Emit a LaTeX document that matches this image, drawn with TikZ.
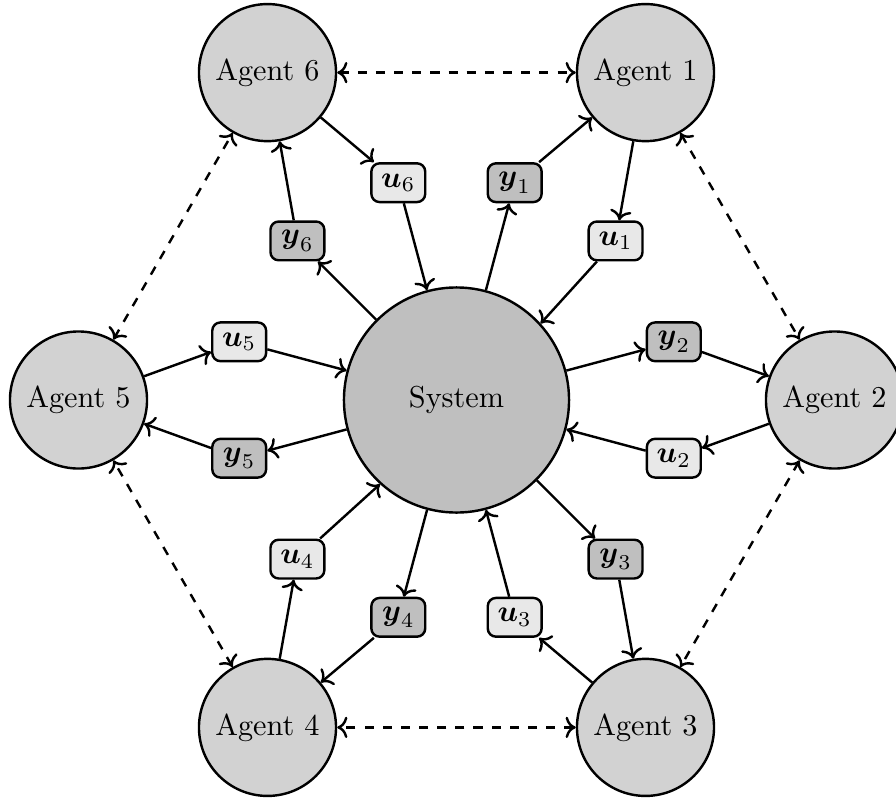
\documentclass[tikz,border=0pt]{standalone}
\usepackage{amsmath}
\usetikzlibrary{arrows.meta}
\begin{document}
\begin{tikzpicture}[x=0.3305pt,y=-0.3305pt,
  agent/.style={circle,draw,thick,fill=gray!35,minimum size=45.3pt,inner sep=0pt},
  sysnode/.style={circle,draw,thick,fill=gray!50,minimum size=74.4pt,inner sep=0pt},
  ubox/.style={draw,thick,rounded corners=2.7pt,fill=gray!18,minimum width=17.8pt,minimum height=12.8pt,inner sep=1.5pt},
  ybox/.style={ubox,fill=gray!50},
  flow/.style={->,thick},
  link/.style={<->,thick,dashed}]
\clip (0,0) rectangle (896,798);
\node[sysnode] (S) at (456.5,400) {System};
\node[agent] (A1) at (645.5,72.6) {Agent 1};
\node[agent] (A2) at (834.5,400) {Agent 2};
\node[agent] (A3) at (645.5,727.4) {Agent 3};
\node[agent] (A4) at (267.5,727.4) {Agent 4};
\node[agent] (A5) at (78.5,400) {Agent 5};
\node[agent] (A6) at (267.5,72.6) {Agent 6};
\node[ybox] (y1) at (514.7,182.7) {$\boldsymbol{y}_1$};
\node[ubox] (u1) at (615.6,240.9) {$\boldsymbol{u}_1$};
\node[ybox] (y2) at (673.8,341.8) {$\boldsymbol{y}_2$};
\node[ubox] (u2) at (673.8,458.2) {$\boldsymbol{u}_2$};
\node[ybox] (y3) at (615.6,559.1) {$\boldsymbol{y}_3$};
\node[ubox] (u3) at (514.7,617.3) {$\boldsymbol{u}_3$};
\node[ybox] (y4) at (398.3,617.3) {$\boldsymbol{y}_4$};
\node[ubox] (u4) at (297.4,559.1) {$\boldsymbol{u}_4$};
\node[ybox] (y5) at (239.2,458.2) {$\boldsymbol{y}_5$};
\node[ubox] (u5) at (239.2,341.8) {$\boldsymbol{u}_5$};
\node[ybox] (y6) at (297.4,240.9) {$\boldsymbol{y}_6$};
\node[ubox] (u6) at (398.3,182.7) {$\boldsymbol{u}_6$};
\foreach \k in {1,...,6}{
  \draw[flow] (S) -- (y\k);
  \draw[flow] (y\k) -- (A\k);
  \draw[flow] (A\k) -- (u\k);
  \draw[flow] (u\k) -- (S);
}
\draw[link] (A1) -- (A2);
\draw[link] (A2) -- (A3);
\draw[link] (A3) -- (A4);
\draw[link] (A4) -- (A5);
\draw[link] (A5) -- (A6);
\draw[link] (A6) -- (A1);
\end{tikzpicture}
\end{document}
